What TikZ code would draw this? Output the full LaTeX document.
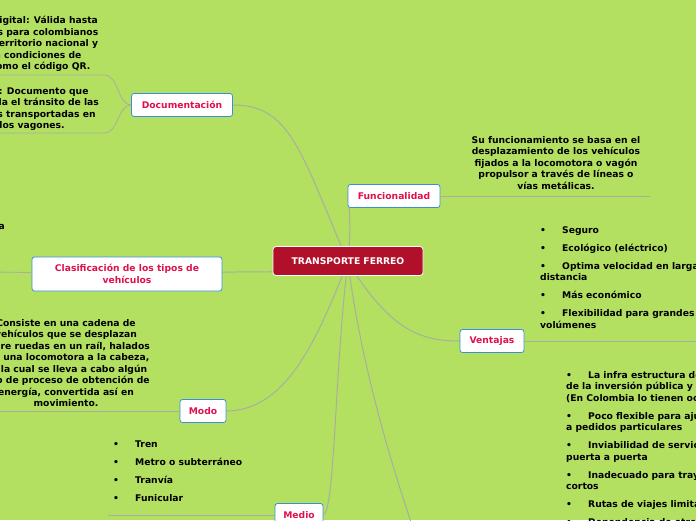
\documentclass[tikz,border=0pt]{standalone}
\usepackage{fontspec}
\setmainfont{DejaVu Sans}[BoldFont=DejaVu Sans Bold]
\usetikzlibrary{positioning}
\definecolor{bgreen}{HTML}{B3E061}
\definecolor{mainred}{HTML}{B1102B}
\definecolor{topicred}{HTML}{E0104E}
\definecolor{boxblue}{HTML}{3A8FD8}
\definecolor{linegray}{HTML}{A9AFA0}
\newcommand{\bl}[1]{\makebox[22pt][l]{•}#1}
\begin{document}
\begin{tikzpicture}[x=1pt,y=-1pt,font=\bfseries\fontsize{9.2}{11.5}\selectfont]
          \tikzstyle{topic}=[draw=boxblue,fill=white,rounded corners=2.5pt,text=topicred,font=\bfseries\fontsize{9.2}{11.5}\selectfont,inner sep=0pt,line width=0.8pt]
          \tikzstyle{main}=[draw=white,fill=mainred,rounded corners=3pt,text=white,font=\bfseries\fontsize{9.2}{11}\selectfont,inner sep=0pt,line width=0.8pt]
          \tikzstyle{txt}=[inner sep=0pt,align=center]
          \tikzstyle{lst}=[inner sep=0pt,align=left,anchor=north west]
          \tikzstyle{branch}=[draw=linegray,line width=1pt]
          \tikzstyle{under}=[draw=linegray,line width=0.8pt]
          \fill[bgreen] (0,0) rectangle (696,520);
          \clip (0,0) rectangle (696,520);

          % ramas del centro
          \coordinate (c0) at (348,262);
          \draw[branch] (c0) .. controls (300,150) and (290,105) .. (233,105);
          \draw[branch] (c0) .. controls (352,220) and (348,196) .. (348,196);
          \draw[branch] (c0) .. controls (390,330) and (420,341) .. (460,341);
          \draw[branch] (c0) .. controls (330,272) and (280,272) .. (222,272);
          \draw[branch] (c0) .. controls (320,330) and (290,411) .. (226,411);
          \draw[branch] (c0) .. controls (335,360) and (335,515) .. (323,515);
          \draw[branch] (c0) .. controls (360,360) and (390,460) .. (412,525);

          % nodos
          \node[main,minimum width=150pt,minimum height=29pt] (tf) at (348,261) {TRANSPORTE FERREO};
          \node[topic,minimum width=92pt,minimum height=23pt] (func) at (394,196) {Funcionalidad};
          \node[topic,minimum width=64pt,minimum height=23pt] (vent) at (492,341) {Ventajas};
          \node[topic,minimum width=101pt,minimum height=23pt] (doc) at (182,105) {Documentación};
          \node[topic,minimum width=190pt,minimum height=34pt,align=center] (clas) at (127,274) {Clasificación de los tipos de\\vehículos};
          \node[topic,minimum width=46pt,minimum height=23pt] (modo) at (203,411) {Modo};
          \node[topic,minimum width=48pt,minimum height=23pt] (medio) at (299,515) {Medio};

          % Funcionalidad
          \coordinate (fu) at (650,196);
          \draw[under] (func) -- (fu);
          \node[txt] (functx) at (556,163) {Su funcionamiento se basa en el\\desplazamiento de los vehículos\\fijados a la locomotora o vagón\\propulsor a través de líneas o\\vías metálicas.};

          % Ventajas
          \coordinate (vu) at (700,341);
          \draw[under] (vent) -- (vu);
          \node[lst] (venttx) at (540,226) {\bl{Seguro}\\[6.5pt]\bl{Ecológico (eléctrico)}\\[6.5pt]\bl{Optima velocidad en larga}\\distancia\\[6.5pt]\bl{Más económico}\\[6.5pt]\bl{Flexibilidad para grandes}\\volúmenes};

          % Desventajas
          \node[lst] (desvtx) at (566,371) {\bl{La infra estructura depende}\\de la inversión pública y privada\\(En Colombia lo tienen ocupado)\\[6.5pt]\bl{Poco flexible para ajustarse}\\a pedidos particulares\\[6.5pt]\bl{Inviabilidad de servicio}\\puerta a puerta\\[6.5pt]\bl{Inadecuado para trayectos}\\cortos\\[6.5pt]\bl{Rutas de viajes limitadas}\\[6.5pt]\bl{Dependencia de otros}};

          % Documentacion
          \coordinate (d1) at (-5,75);
          \coordinate (d2) at (-5,133);
          \draw[under] (doc.west) .. controls (118,105) and (118,75) .. (105,75) -- (d1);
          \draw[under] (doc.west) .. controls (118,105) and (118,133) .. (105,133) -- (d2);
          \node[txt,anchor=south] (doc1) at (32,72) {Guía digital: Válida hasta\\30 días para colombianos\\en el territorio nacional y\\con condiciones de\\tal como el código QR.};
          \node[txt,anchor=south] (doc2) at (32,131) {Guía: Documento que\\controla el tránsito de las\\cargas transportadas en\\los vagones.};

          % Clasificacion
          \coordinate (cl1) at (-5,272);
          \draw[under] (clas) -- (cl1);
          \node[lst,anchor=north east] (clastx) at (5,222) {en la};

          % Modo
          \coordinate (mo1) at (-5,411);
          \draw[under] (modo) -- (mo1);
          \node[txt,anchor=south] (modotx) at (66,407) {Consiste en una cadena de\\vehículos que se desplazan\\sobre ruedas en un raíl, halados\\por una locomotora a la cabeza,\\en la cual se lleva a cabo algún\\tipo de proceso de obtención de\\energía, convertida así en\\movimiento.};

          % Medio
          \coordinate (me1) at (108,515);
          \draw[under] (medio) -- (me1);
          \node[lst] (mediotx) at (113,441) {\bl{Tren}\\[6.5pt]\bl{Metro o subterráneo}\\[6.5pt]\bl{Tranvía}\\[6.5pt]\bl{Funicular}};
\end{tikzpicture}
\end{document}
